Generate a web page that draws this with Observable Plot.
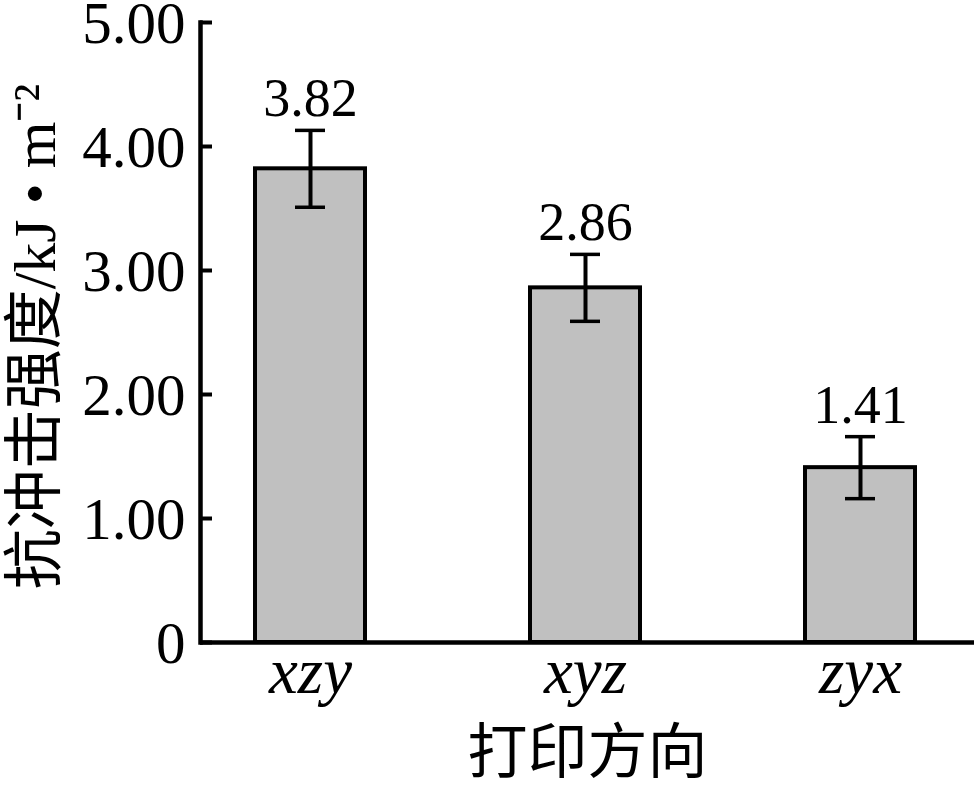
<!DOCTYPE html>
<html>
<head>
<meta charset="utf-8">
<script src="https://cdn.jsdelivr.net/npm/d3@7"></script>
<script src="https://cdn.jsdelivr.net/npm/@observablehq/plot@0.6"></script>
<style>
  html, body { margin: 0; padding: 0; background: #ffffff; }
</style>
</head>
<body>
<div id="chart"></div>
<script>
const categories = ["xzy", "xyz", "zyx"];
const values = [3.82, 2.86, 1.41];
const errors = [0.31, 0.27, 0.25];
const valueLabels = ["3.82", "2.86", "1.41"];
const yTicks = [0, 1, 2, 3, 4, 5];
const yTickLabels = ["0", "1.00", "2.00", "3.00", "4.00", "5.00"];
const xTitle = "打印方向";
const yTitle = "抗冲击强度/kJ • m⁻²";

const data = categories.map((c, i) => ({cat: c, value: values[i], err: errors[i], label: valueLabels[i]}));

const serif = '"Liberation Serif", "Times New Roman", "Noto Sans CJK SC", serif';

const chart = Plot.plot({
  width: 974,
  height: 785,
  marginLeft: 200,
  marginTop: 22,
  marginBottom: 143,
  marginRight: 0,
  style: {fontFamily: serif, background: "#ffffff", color: "#000000"},
  x: {domain: categories, range: [200, 970], paddingInner: 0.6, paddingOuter: 0.2, label: null},
  y: {domain: [0, 5], label: null},
  marks: [
    Plot.barY(data, {x: "cat", y: "value", fill: "#c0c0c0", stroke: "#000000", strokeWidth: 4}),
    Plot.ruleX(data, {x: "cat", y1: d => d.value - d.err, y2: d => d.value + d.err, stroke: "#000000", strokeWidth: 4}),
    Plot.tickY(data, {x: "cat", y: d => d.value + d.err, insetLeft: 40, insetRight: 40, stroke: "#000000", strokeWidth: 3.5}),
    Plot.tickY(data, {x: "cat", y: d => d.value - d.err, insetLeft: 40, insetRight: 40, stroke: "#000000", strokeWidth: 3.5}),
    Plot.text(data, {x: "cat", y: d => d.value + d.err, text: "label", lineAnchor: "bottom", dy: -14, fontSize: 54, fill: "#000000"}),
    Plot.ruleY([0], {stroke: "#000000", strokeWidth: 4.5}),
    Plot.frame({anchor: "left", stroke: "#000000", strokeWidth: 4.5}),
    Plot.tickY(yTicks, {y: d => d, insetRight: 762, stroke: "#000000", strokeWidth: 4}),
    Plot.axisY({ticks: yTicks, tickFormat: d => yTickLabels[yTicks.indexOf(d)], tickSize: 0, tickPadding: 15, dy: 2, fontSize: 59, label: null}),
    Plot.axisX({tickSize: 0, tickPadding: 4, fontSize: 65, fontStyle: "italic", label: null}),
    Plot.text([xTitle], {frameAnchor: "bottom", dy: 130, fontSize: 60, fill: "#000000"}),
    Plot.text([yTitle], {frameAnchor: "left", textAnchor: "middle", rotate: -90, dx: -165, dy: 4, fontSize: 60, fill: "#000000"})
  ]
});

document.getElementById("chart").appendChild(chart);
</script>
</body>
</html>
